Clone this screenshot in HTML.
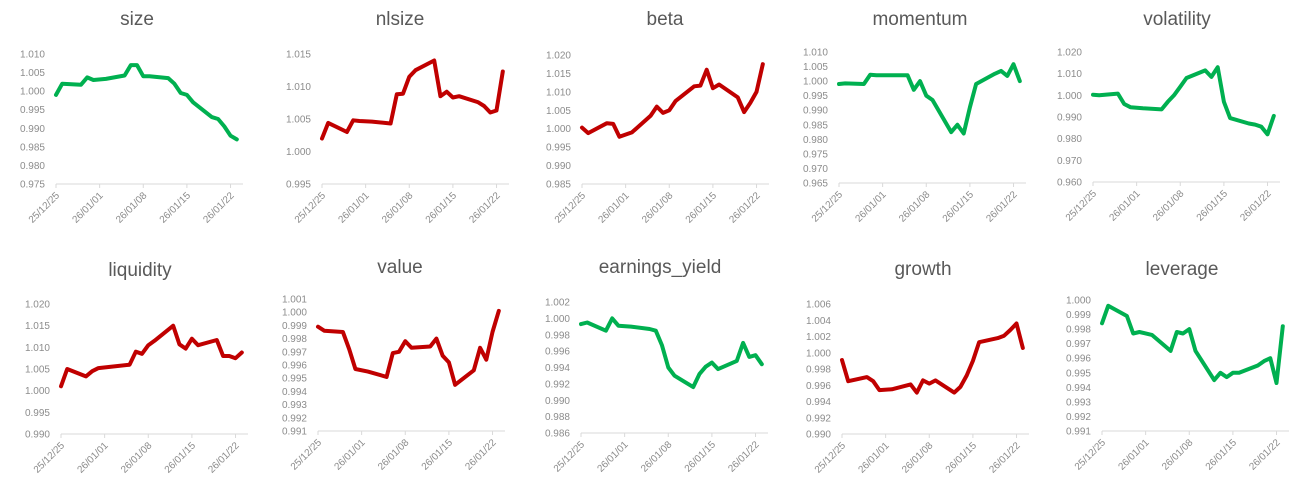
<!DOCTYPE html>
<html><head><meta charset="utf-8"><style>
html,body{margin:0;padding:0;background:#fff;}
svg{display:block;font-family:"Liberation Sans",sans-serif;}
</style></head><body>
<svg id="c" width="1311" height="492" viewBox="0 0 1311 492"></svg>
<script>
const days = [0,1,4,5,6,8,11,12,13,14,15,18,19,20,21,22,25,26,27,28,29];
const xTickDays = [0,7,14,21,28];
const xTickLabels = ["25/12/25","26/01/01","26/01/08","26/01/15","26/01/22"];
const sizeVals = [0.999,1.002,1.0017,1.0037,1.003,1.0033,1.0042,1.007,1.007,1.004,1.004,1.0035,1.002,0.9995,0.999,0.997,0.993,0.9925,0.9905,0.988,0.987];
const nlsizeVals = [1.002,1.0044,1.003,1.0048,1.0047,1.0046,1.0043,1.0088,1.0089,1.0115,1.0125,1.014,1.0085,1.0092,1.0083,1.0085,1.0076,1.007,1.006,1.0063,1.0123];
const betaVals = [1.0003,0.9988,1.0015,1.0013,0.9978,0.999,1.0035,1.006,1.0043,1.005,1.0075,1.0115,1.0117,1.016,1.011,1.012,1.0085,1.0045,1.007,1.01,1.0175];
const momentumVals = [0.999,0.9992,0.999,1.0022,1.002,1.002,1.002,0.997,1.0,0.995,0.9935,0.9825,0.985,0.982,0.991,0.999,1.0025,1.0035,1.0018,1.0058,1.0];
const volatilityVals = [1.0003,1.0,1.0008,0.996,0.9945,0.994,0.9935,0.997,1.0,1.004,1.008,1.0115,1.0085,1.013,0.997,0.9895,0.987,0.9865,0.9855,0.982,0.9905];
const liquidityVals = [1.001,1.005,1.0033,1.0045,1.0052,1.0055,1.006,1.009,1.0085,1.0105,1.0115,1.015,1.0107,1.0097,1.012,1.0105,1.0117,1.008,1.008,1.0075,1.0088];
const valueVals = [0.9989,0.9986,0.9985,0.9972,0.9957,0.9955,0.9951,0.9969,0.997,0.9978,0.9973,0.9974,0.998,0.9967,0.9962,0.9945,0.9956,0.9973,0.9964,0.9985,1.0001];
const earningsVals = [0.9993,0.9995,0.9985,1.0,0.9991,0.999,0.9987,0.9985,0.9967,0.994,0.993,0.9916,0.9932,0.9941,0.9946,0.9938,0.9948,0.997,0.9953,0.9955,0.9944];
const growthVals = [0.9991,0.9965,0.997,0.9965,0.9954,0.9955,0.9961,0.9951,0.9966,0.9962,0.9966,0.9951,0.9958,0.9972,0.999,1.0013,1.0018,1.0021,1.0028,1.0036,1.0006];
const leverageVals = [0.9984,0.9996,0.9989,0.9977,0.9978,0.9976,0.9965,0.9978,0.9977,0.998,0.9965,0.9945,0.995,0.9947,0.995,0.995,0.9955,0.9958,0.996,0.9943,0.9982];

const G="#00b050", R="#c00000";
const charts = [
 {t:"size",v:sizeVals,c:G,x0:56,yT:54,yB:184,min:0.975,max:1.010,step:0.005,d:3,tx:137,ty:25},
 {t:"nlsize",v:nlsizeVals,c:R,x0:322,yT:54,yB:184,min:0.995,max:1.015,step:0.005,d:3,tx:400,ty:25},
 {t:"beta",v:betaVals,c:R,x0:582,yT:55,yB:184,min:0.985,max:1.020,step:0.005,d:3,tx:665,ty:25},
 {t:"momentum",v:momentumVals,c:G,x0:839,yT:52,yB:183,min:0.965,max:1.010,step:0.005,d:3,tx:920,ty:25},
 {t:"volatility",v:volatilityVals,c:G,x0:1093,yT:52,yB:182,min:0.960,max:1.020,step:0.010,d:3,tx:1177,ty:25},
 {t:"liquidity",v:liquidityVals,c:R,x0:61,yT:304,yB:434,min:0.990,max:1.020,step:0.005,d:3,tx:140,ty:276},
 {t:"value",v:valueVals,c:R,x0:318,yT:299,yB:431,min:0.991,max:1.001,step:0.001,d:3,tx:400,ty:273},
 {t:"earnings_yield",v:earningsVals,c:G,x0:581,yT:302,yB:433,min:0.986,max:1.002,step:0.002,d:3,tx:660,ty:273},
 {t:"growth",v:growthVals,c:R,x0:842,yT:304,yB:434,min:0.990,max:1.006,step:0.002,d:3,tx:923,ty:275},
 {t:"leverage",v:leverageVals,c:G,x0:1102,yT:300,yB:431,min:0.991,max:1.000,step:0.001,d:3,tx:1182,ty:275}
];
const NS="http://www.w3.org/2000/svg";
const svg=document.getElementById('c');
function mk(tag,attrs,parent){const e=document.createElementNS(NS,tag);for(const k in attrs)e.setAttribute(k,attrs[k]);(parent||svg).appendChild(e);return e;}
const W=187, DMAX=30;
charts.forEach(ch=>{
  const g=mk('g',{});
  
  
  const xs=d=>ch.x0+d/DMAX*W;
  const ys=v=>ch.yB-(v-ch.min)/(ch.max-ch.min)*(ch.yB-ch.yT);
  const title=mk('text',{x:ch.tx,y:ch.ty,'text-anchor':'middle','font-size':19,fill:'#595959'},g);
  title.textContent=ch.t;
  
  
  const n=Math.round((ch.max-ch.min)/ch.step);
  for(let i=0;i<=n;i++){
    const v=ch.min+i*ch.step;
    const t=mk('text',{x:ch.x0-11,y:ys(v)+3.5,'text-anchor':'end','font-size':10,fill:'#8c8c8c'},g);
    t.textContent=v.toFixed(ch.d);
    
    
  }
  const ax=mk('line',{x1:ch.x0,x2:ch.x0+W,y1:ch.yB,y2:ch.yB,stroke:'#d9d9d9','stroke-width':1},g);
  
  
  xTickDays.forEach((d,i)=>{
    const x=xs(d);
    mk('line',{x1:x,x2:x,y1:ch.yB,y2:ch.yB+4,stroke:'#d9d9d9'},g);
    const t=mk('text',{x:x+4,y:ch.yB+12,'text-anchor':'end','font-size':10,fill:'#8c8c8c',transform:`rotate(-45 ${x+4} ${ch.yB+12})`},g);
    t.textContent=xTickLabels[i];
    
    
  });
  const pts=ch.v.map((v,i)=>xs(days[i]).toFixed(1)+','+ys(v).toFixed(1)).join(' ');
  const pl=mk('polyline',{points:pts,fill:'none',stroke:ch.c,'stroke-width':4,'stroke-linejoin':'round','stroke-linecap':'round'},g);
  
  
});
</script>
</body></html>
